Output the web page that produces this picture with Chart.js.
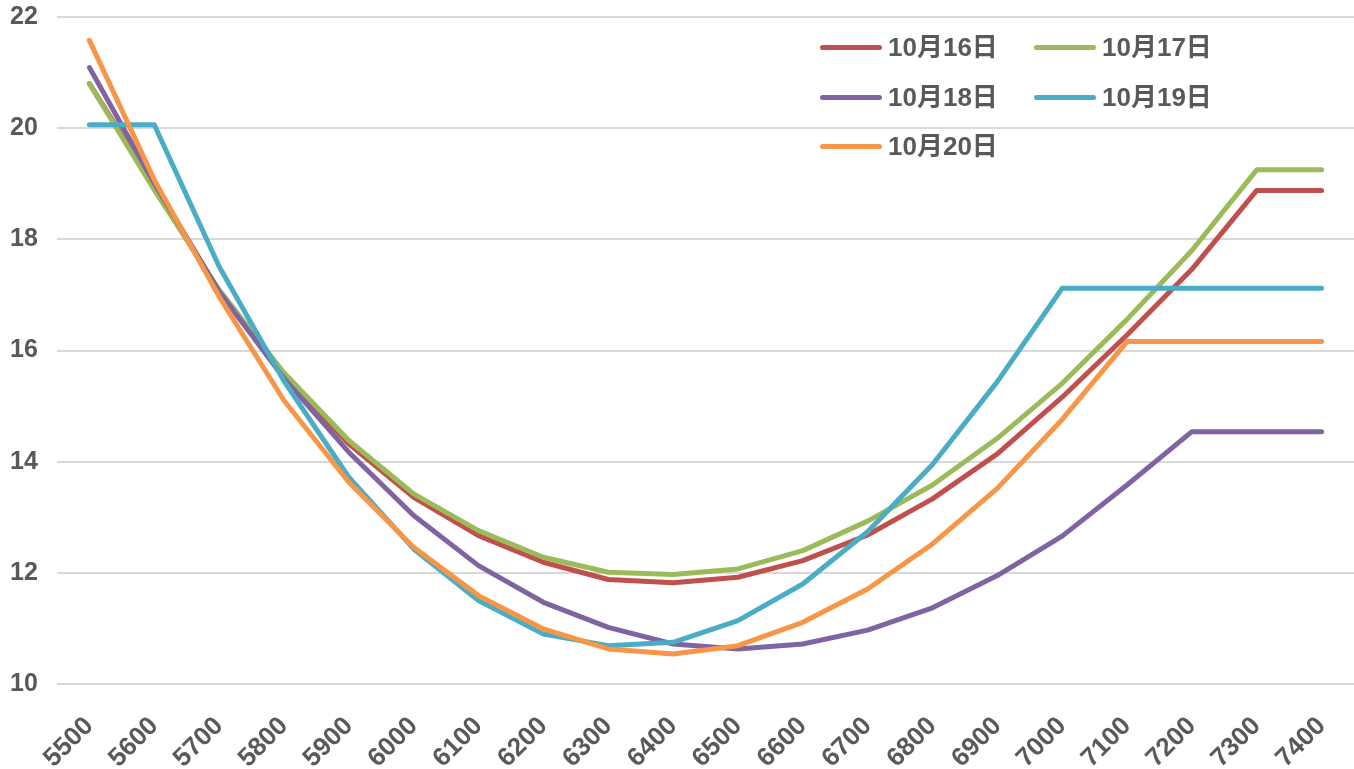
<!DOCTYPE html>
<html>
<head>
<meta charset="utf-8">
<script src="https://cdn.jsdelivr.net/npm/chart.js@4.4.1/dist/chart.umd.min.js"></script>
<style>
  html, body { margin: 0; padding: 0; background: #ffffff; }
  #wrap { position: relative; width: 1354px; height: 769px; }
  #legend { position: absolute; left: 0; top: 0; width: 1354px; height: 769px; pointer-events: none; }
  .item { position: absolute; display: flex; align-items: center; }
  .swatch { width: 62px; height: 5px; border-radius: 3px; margin-right: 6px; }
  .label { font-family: "Liberation Sans", "Noto Sans CJK SC", sans-serif; font-weight: bold; font-size: 26px; color: #595959; line-height: 30px; white-space: nowrap; }
</style>
</head>
<body>
<div id="wrap">
  <canvas id="c"></canvas>
  <div id="legend"></div>
</div>
<script>
const categories = ['5500','5600','5700','5800','5900','6000','6100','6200','6300','6400','6500','6600','6700','6800','6900','7000','7100','7200','7300','7400'];
const seriesNames = ['10月16日','10月17日','10月18日','10月19日','10月20日'];
const seriesColors = ['#C0504D','#9BBB59','#8064A2','#4BACC6','#F79646'];
const oct16 = [20.80,18.95,17.05,15.55,14.32,13.36,12.67,12.19,11.88,11.82,11.92,12.22,12.68,13.33,14.14,15.16,16.28,17.46,18.88,18.88];
const oct17 = [20.80,18.89,17.09,15.60,14.38,13.42,12.76,12.28,12.01,11.97,12.07,12.40,12.93,13.58,14.42,15.41,16.56,17.80,19.25,19.25];
const oct18 = [21.09,19.01,17.06,15.50,14.17,13.03,12.13,11.47,11.02,10.72,10.63,10.72,10.97,11.37,11.95,12.66,13.58,14.54,14.54,14.54];
const oct19 = [20.06,20.06,17.51,15.45,13.72,12.43,11.50,10.90,10.69,10.75,11.14,11.80,12.74,13.95,15.44,17.12,17.12,17.12,17.12,17.12];
const oct20 = [21.58,19.07,16.97,15.10,13.63,12.46,11.59,10.99,10.63,10.54,10.69,11.11,11.71,12.52,13.52,14.76,16.16,16.16,16.16,16.16];
const yTicks = [10,12,14,16,18,20,22];

const seriesData = [oct16, oct17, oct18, oct19, oct20];
const datasets = seriesData.map((d, i) => ({
  label: seriesNames[i],
  data: d,
  borderColor: seriesColors[i],
  backgroundColor: seriesColors[i],
  borderWidth: 5,
  pointRadius: 0,
  pointHoverRadius: 0,
  tension: 0,
  fill: false,
  borderCapStyle: 'round',
  borderJoinStyle: 'round',
  order: seriesData.length - 1 - i
}));

new Chart(document.getElementById('c'), {
  type: 'line',
  data: { labels: categories, datasets },
  options: {
    responsive: true,
    maintainAspectRatio: false,
    animation: false,
    layout: { padding: { top: 17, right: 0, bottom: 0, left: 10 } },
    plugins: { legend: { display: false }, tooltip: { enabled: false } },
    scales: {
      x: {
        type: 'category',
        offset: true,
        grid: { display: false, drawTicks: false },
        border: { display: false },
        ticks: { color: '#595959', font: { family: '"Liberation Sans", sans-serif', size: 26, weight: 'bold' }, minRotation: 45, maxRotation: 45, padding: 27, autoSkip: false },
        afterFit: (axis) => { axis.paddingLeft = 0; axis.paddingRight = 0; axis.height = 85; }
      },
      y: {
        min: yTicks[0],
        max: yTicks[yTicks.length - 1],
        afterBuildTicks: (axis) => { axis.ticks = yTicks.map(v => ({ value: v })); },
        grid: { color: '#d9d9d9', lineWidth: 2, drawTicks: false },
        border: { display: false },
        ticks: { color: '#595959', font: { family: '"Liberation Sans", sans-serif', size: 25, weight: 'bold' }, padding: 0, crossAlign: 'far' },
        afterFit: (axis) => { axis.width = 47; axis.paddingTop = 0; axis.paddingBottom = 0; }
      }
    }
  }
});

// Legend (two columns, inside plot area top-right)
const legend = document.getElementById('legend');
const legendPos = [[820, 32], [1034, 32], [820, 82], [1034, 82], [820, 131]];
seriesNames.forEach((name, i) => {
  const it = document.createElement('div');
  it.className = 'item';
  it.style.left = legendPos[i][0] + 'px';
  it.style.top = legendPos[i][1] + 'px';
  const sw = document.createElement('div');
  sw.className = 'swatch';
  sw.style.background = seriesColors[i];
  const lb = document.createElement('div');
  lb.className = 'label';
  lb.textContent = name;
  it.appendChild(sw);
  it.appendChild(lb);
  legend.appendChild(it);
});
</script>
</body>
</html>
